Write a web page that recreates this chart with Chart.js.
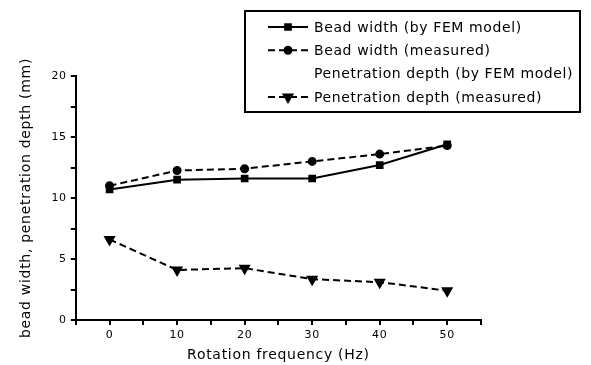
<!DOCTYPE html>
<html>
<head>
<meta charset="utf-8">
<script src="https://cdn.jsdelivr.net/npm/chart.js@4/dist/chart.umd.min.js"></script>
<style>
	body { margin: 0; background: #fff; }
	#wrap { position: relative; width: 591px; height: 365px; }
</style>
</head>
<body>
<div id="wrap"><canvas id="chart-1" width="591" height="365"></canvas></div>
<script>
const frequencies = [0, 10, 20, 30, 40, 50];
const beadWidthFem = [10.7, 11.5, 11.6, 11.6, 12.7, 14.4];
const beadWidthMeasured = [11.0, 12.25, 12.4, 13.0, 13.6, 14.3];
const penetrationFem = [];
const penetrationMeasured = [6.6, 4.1, 4.25, 3.35, 3.1, 2.4];
const seriesLabels = [
	"Bead width (by FEM model)",
	"Bead width (measured)",
	"Penetration depth (by FEM model)",
	"Penetration depth (measured)",
];
const xTickLabels = [0, 10, 20, 30, 40, 50];
const yTickLabels = [0, 5, 10, 15, 20];

const fontFamily = "DejaVu Sans";

function toPoints(values) {
	return values.map((v, i) => ({x: frequencies[i], y: v}));
}

// the original font is wide and loosely spaced
const spacing = {
	id: "spacing",
	beforeInit(chart) { chart.ctx.letterSpacing = "0.7px"; },
	beforeDraw(chart) { chart.ctx.letterSpacing = "0.7px"; },
};

// legend drawn inside a framed box, like the original figure
const boxLegend = {
	id: "boxLegend",
	afterDraw(chart) {
		const ctx = chart.ctx;
		const left = 245, top = 11, right = 580, bottom = 112;
		ctx.save();
		ctx.strokeStyle = "#000";
		ctx.lineWidth = 2;
		ctx.strokeRect(left, top, right - left, bottom - top);
		ctx.font = "14px '" + fontFamily + "'";
		ctx.letterSpacing = "0.6px";
		ctx.fillStyle = "#000";
		ctx.textBaseline = "middle";
		chart.data.datasets.forEach((ds, i) => {
			const y = 27 + i * 23.3;
			if (ds.data.length) {
				ctx.beginPath();
				ctx.setLineDash(ds.borderDash || []);
				ctx.lineWidth = 2;
				ctx.moveTo(268, y);
				ctx.lineTo(308, y);
				ctx.stroke();
				ctx.setLineDash([]);
				Chart.helpers.drawPoint(ctx, {
					pointStyle: ds.pointStyle,
					radius: ds.pointRadius,
					rotation: ds.pointRotation || 0,
					borderWidth: 1,
				}, 288, y);
			}
			ctx.fillStyle = "#000";
			ctx.fillText(ds.label, 314, y + 1);
		});
		ctx.restore();
	}
};

const lineStyle = {
	borderColor: "#000",
	backgroundColor: "#000",
	pointBackgroundColor: "#000",
	pointBorderColor: "#000",
	borderWidth: 2,
	tension: 0,
	fill: false,
};

new Chart("chart-1", {
	type: "line",
	data: {
		datasets: [
			{...lineStyle, label: seriesLabels[0], data: toPoints(beadWidthFem), pointStyle: "rect", pointRadius: 4},
			{...lineStyle, label: seriesLabels[1], data: toPoints(beadWidthMeasured), pointStyle: "circle", pointRadius: 3.5, borderDash: [7, 4]},
			{...lineStyle, label: seriesLabels[2], data: toPoints(penetrationFem), pointStyle: "rect", pointRadius: 0},
			{...lineStyle, label: seriesLabels[3], data: toPoints(penetrationMeasured), pointStyle: "triangle", pointRotation: 180, pointRadius: 5, borderDash: [7, 4]},
		]
	},
	options: {
		responsive: false,
		animation: false,
		devicePixelRatio: 1,
		layout: { padding: { top: 76, right: 110, left: 4, bottom: 0 } },
		plugins: {
			legend: { display: false },
			tooltip: { enabled: false },
		},
		scales: {
			x: {
				type: "linear",
				min: -5,
				max: 55,
				border: { color: "#000", width: 2 },
				grid: { drawOnChartArea: false, color: "#000", lineWidth: 2, tickLength: 5 },
				ticks: {
					stepSize: 5,
					color: "#000",
					font: { family: fontFamily, size: 11 },
					padding: 4,
					maxRotation: 0,
					callback: v => xTickLabels.includes(v) ? String(v) : "",
				},
				title: {
					display: true,
					text: "Rotation frequency (Hz)",
					color: "#000",
					font: { family: fontFamily, size: 14 },
					padding: { top: 1, bottom: 1 },
				},
			},
			y: {
				min: 0,
				max: 20,
				border: { color: "#000", width: 2 },
				grid: { drawOnChartArea: false, color: "#000", lineWidth: 2, tickLength: 5 },
				ticks: {
					stepSize: 2.5,
					color: "#000",
					font: { family: fontFamily, size: 11 },
					padding: 4,
					callback: v => yTickLabels.includes(v) ? String(v) : "",
				},
				title: {
					display: true,
					text: "bead width, penetration depth (mm)",
					color: "#000",
					font: { family: fontFamily, size: 14 },
					padding: { top: 14, bottom: 14 },
				},
			},
		},
	},
	plugins: [spacing, boxLegend],
});
</script>
</body>
</html>
